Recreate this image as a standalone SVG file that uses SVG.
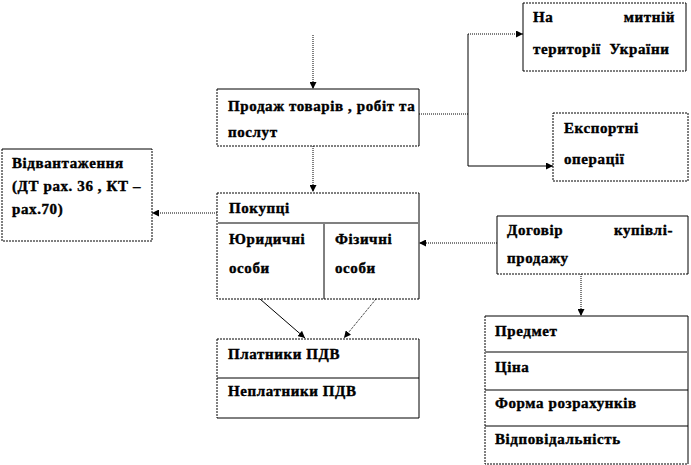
<svg xmlns="http://www.w3.org/2000/svg" width="691" height="465" viewBox="0 0 691 465">
<defs>
<style>
.bg{fill:#fff;stroke:none}
.s{fill:none;stroke:#000;stroke-width:1}
.d{fill:none;stroke:#000;stroke-width:1;stroke-dasharray:2,1}
.g{fill:none;stroke:#808080;stroke-width:2}
.c{fill:none;stroke:#000;stroke-width:1;stroke-dasharray:1,1}
.cs{fill:none;stroke:#000;stroke-width:1}
text{font-family:"Liberation Serif","Times New Roman",serif;font-weight:bold;font-size:15px;letter-spacing:0.6px;fill:#000;stroke:#000;stroke-width:0.4;white-space:pre}
</style>
<marker id="ah" viewBox="0 0 8 8" refX="8" refY="4" markerWidth="7" markerHeight="7" markerUnits="userSpaceOnUse" orient="auto">
<path d="M0,0 L8,4 L0,8 Z" fill="#000"/>
</marker>
</defs>
<rect width="691" height="465" fill="#fff"/>

<g id="connectors">
<path class="c" d="M313,35 V89" marker-end="url(#ah)"/>
<path class="c" d="M313,146 V192" marker-end="url(#ah)"/>
<path class="c" d="M419,114 H468"/>
<path class="cs" d="M468,34 V166"/>
<path class="c" d="M468,34 H523" marker-end="url(#ah)"/>
<path class="cs" d="M468,166 H553" marker-end="url(#ah)"/>
<path class="c" d="M217,213 H152" marker-end="url(#ah)"/>
<path class="c" d="M497,243 H419" marker-end="url(#ah)"/>
<path class="c" d="M581,274 V316" marker-end="url(#ah)"/>
<path class="cs" d="M260,299 L305,338" marker-end="url(#ah)"/>
<path class="c" d="M376,299 L344,338" marker-end="url(#ah)"/>
</g>

<g id="prodazh">
<rect class="bg" x="217" y="89" width="202" height="57"/>
<path class="s" d="M217,89 H419 V146"/>
<path class="d" d="M217,89 V146 H419"/>
<text x="228" y="111">Продаж товарів , робіт та</text>
<text x="228" y="137">послут</text>
</g>

<g id="mytna">
<rect class="bg" x="523" y="3" width="163" height="68"/>
<path class="s" d="M523,3 V71 M686,3 V71"/>
<path class="d" d="M523,3 H686 M523,71 H686"/>
<text x="533" y="22">На</text>
<text x="675" y="22" text-anchor="end">митній</text>
<text x="533" y="54" xml:space="preserve">території  України</text>
</g>

<g id="eksport">
<rect class="bg" x="553" y="113" width="135" height="68"/>
<path class="d" d="M553,113 H688 V181 H553 Z"/>
<text x="564" y="133">Експортні</text>
<text x="564" y="164">операції</text>
</g>

<g id="vidvantazhennya">
<rect class="bg" x="2" y="149" width="150" height="92"/>
<path class="s" d="M2,149 H152"/>
<path class="d" d="M2,149 V241 H152 V149"/>
<text x="12" y="168">Відвантаження</text>
<text x="12" y="191">(ДТ рах. 36 , КТ –</text>
<text x="12" y="214">рах.70)</text>
</g>

<g id="pokuptsi">
<rect class="bg" x="217" y="193" width="202" height="106"/>
<path class="s" d="M419,193 V299"/>
<path class="d" d="M217,193 H419 M217,193 V299 H419"/>
<path class="g" d="M218,223 H418"/>
<path class="s" d="M324,224 V299"/>
<text x="229" y="213">Покупці</text>
<text x="229" y="244">Юридичні</text>
<text x="229" y="273">особи</text>
<text x="335" y="244">Фізичні</text>
<text x="335" y="273">особи</text>
</g>

<g id="dohovir">
<rect class="bg" x="497" y="216" width="191" height="58"/>
<path class="s" d="M497,216 H688 V274 M497,216 V274"/>
<path class="d" d="M497,274 H688"/>
<text x="507" y="235">Договір</text>
<text x="673" y="235" text-anchor="end">купівлі-</text>
<text x="507" y="263">продажу</text>
</g>

<g id="platnyky">
<rect class="bg" x="217" y="339" width="202" height="79"/>
<path class="s" d="M419,339 V418 H217"/>
<path class="d" d="M217,339 H419 M217,339 V418"/>
<path class="s" d="M217,378 H419"/>
<text x="228" y="359">Платники ПДВ</text>
<text x="228" y="396">Неплатники ПДВ</text>
</g>

<g id="umovy">
<rect class="bg" x="485" y="316" width="203" height="148"/>
<path class="s" d="M485,316 H688 V464"/>
<path class="d" d="M485,316 V464 H688"/>
<path class="g" d="M485,352 H688"/>
<path class="s" d="M485,390 H688"/>
<path class="s" d="M485,426 H688"/>
<text x="495" y="336">Предмет</text>
<text x="495" y="372">Ціна</text>
<text x="495" y="408">Форма розрахунків</text>
<text x="495" y="444">Відповідальність</text>
</g>
</svg>
